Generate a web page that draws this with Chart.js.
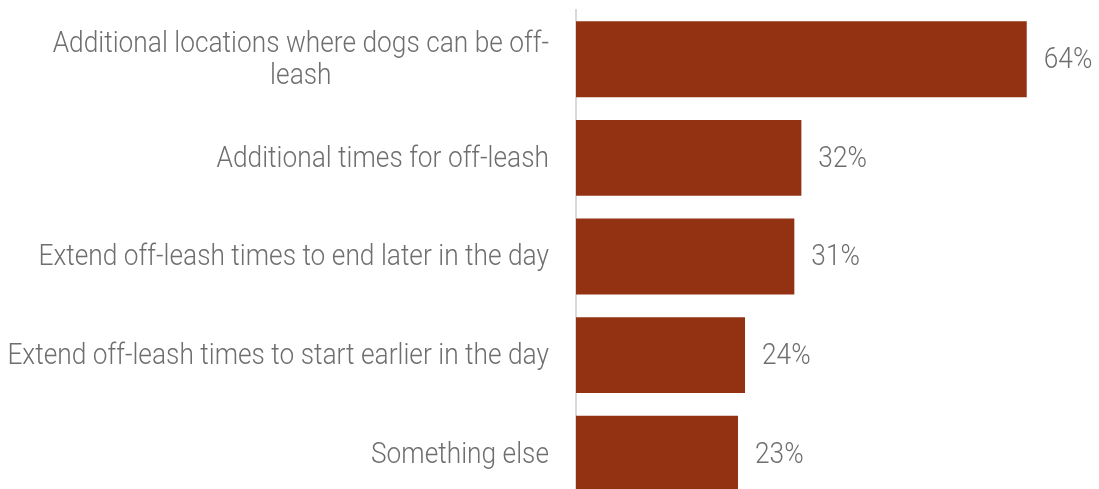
<!DOCTYPE html>
<html>
<head>
<meta charset="utf-8">
<script src="https://cdn.jsdelivr.net/npm/chart.js@4/dist/chart.umd.min.js"></script>
<style>
  html, body { margin: 0; padding: 0; background: #ffffff; overflow: hidden; }
  #wrap { position: relative; width: 1099px; height: 503px; }
</style>
</head>
<body>
<div id="wrap"><canvas id="chart"></canvas></div>
<script>
// Survey answers: which off-leash changes people would like to see
const categories = [
  ["Additional locations where dogs can be off-", "leash"],
  ["Additional times for off-leash"],
  ["Extend off-leash times to end later in the day"],
  ["Extend off-leash times to start earlier in the day"],
  ["Something else"]
];
const shares = [64, 32, 31, 24, 23];
const valueLabels = ["64%", "32%", "31%", "24%", "23%"];

const BAR_COLOR = "#933212";
const TEXT_COLOR = "#6e6e6e";
const FONT = "300 30px 'Roboto Light', Roboto, 'Open Sans', Lato, sans-serif";
const SQUEEZE = 0.877;   // slightly condensed lettering

// Writes text horizontally condensed; align is 'left' | 'center' | 'right'.
function condensedText(ctx, text, x, y, align) {
  const w = ctx.measureText(text).width * SQUEEZE;
  let left = x;
  if (align === "center") left = x - w / 2;
  else if (align === "right") left = x - w;
  ctx.save();
  ctx.translate(left, y);
  ctx.scale(SQUEEZE, 1);
  ctx.textAlign = "left";
  ctx.fillText(text, 0, 0);
  ctx.restore();
}

// Draws the category names (right-aligned blocks, lines centred within each block)
// and the percentage beside each bar.
const labelPlugin = {
  id: "barLabels",
  afterDatasetsDraw(chart) {
    const ctx = chart.ctx;
    const y = chart.scales.y;
    const meta = chart.getDatasetMeta(0);
    ctx.save();
    ctx.font = FONT;
    ctx.fillStyle = TEXT_COLOR;
    ctx.textBaseline = "middle";
    const rightEdge = chart.chartArea.left - 27;
    const lineH = 32;
    categories.forEach((lines, i) => {
      const cy = y.getPixelForValue(i);
      const widths = lines.map(l => ctx.measureText(l).width * SQUEEZE);
      const blockW = Math.max(...widths);
      const blockCenter = rightEdge - blockW / 2;
      lines.forEach((l, k) => {
        const ly = cy + (k - (lines.length - 1) / 2) * lineH;
        condensedText(ctx, l, blockCenter, ly, "center");
      });
    });
    meta.data.forEach((bar, i) => {
      condensedText(ctx, valueLabels[i], bar.x + 17, bar.y, "left");
    });
    ctx.restore();
  }
};

new Chart(document.getElementById("chart"), {
  type: "bar",
  data: {
    labels: categories,
    datasets: [{
      data: shares,
      backgroundColor: BAR_COLOR,
      borderWidth: 0,
      barPercentage: 0.77,
      categoryPercentage: 1.0
    }]
  },
  options: {
    indexAxis: "y",
    responsive: true,
    maintainAspectRatio: false,
    animation: false,
    layout: { padding: { top: 10, right: 30, bottom: 0, left: 0 } },
    plugins: {
      legend: { display: false },
      tooltip: { enabled: false }
    },
    scales: {
      x: {
        display: false,
        min: 0,
        max: 70
      },
      y: {
        afterFit(scale) { scale.width = 576; },
        grid: { display: false, drawTicks: false },
        border: { display: true, color: "#d9d9d9", width: 2 },
        ticks: { display: false }
      }
    }
  },
  plugins: [labelPlugin]
});
</script>
</body>
</html>
